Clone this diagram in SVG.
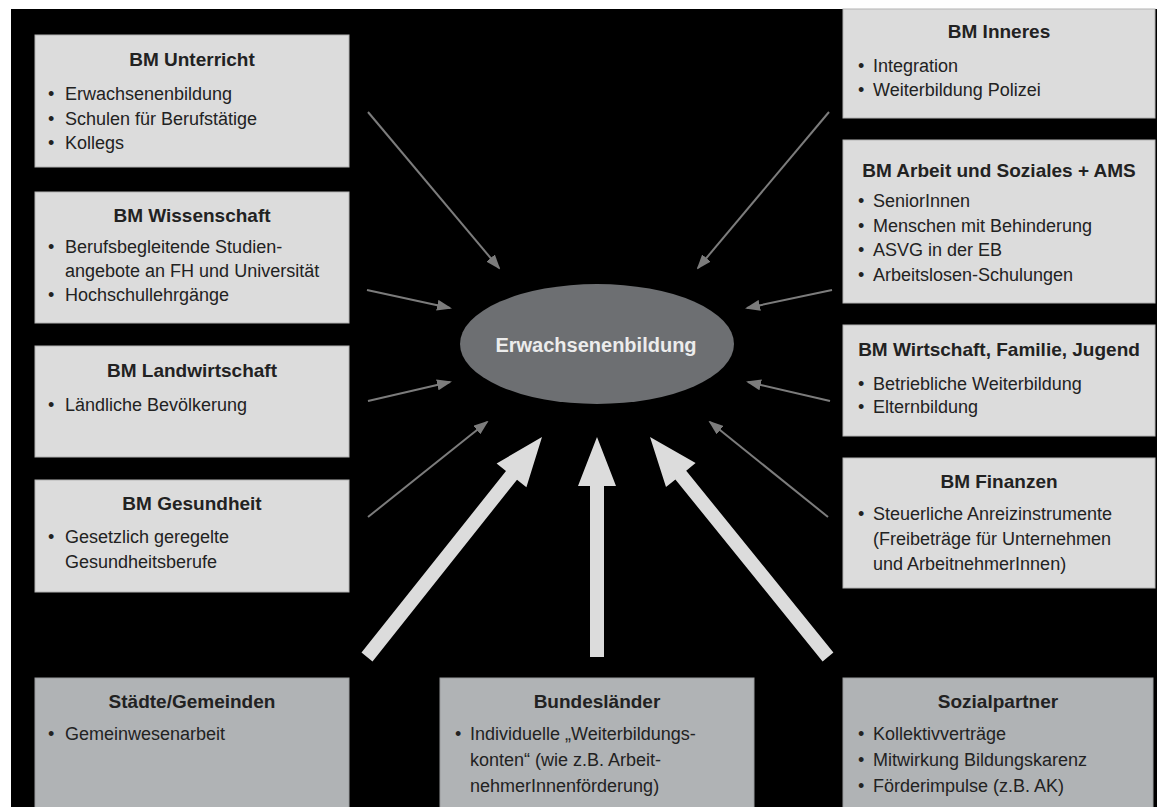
<svg xmlns="http://www.w3.org/2000/svg" width="1157" height="807" viewBox="0 0 1157 807">
<defs>
<style>
.box{fill:#dcdcdc;stroke:#b4b4b4;stroke-width:1}
.box2{fill:#b0b3b5;stroke:#9a9c9e;stroke-width:1}
.t{font-family:"Liberation Sans",Arial,sans-serif;font-size:19px;font-weight:bold;fill:#222;text-anchor:middle}
.b{font-family:"Liberation Sans",Arial,sans-serif;font-size:18px;fill:#222}
.thin{stroke:#7c7c7c;stroke-width:2;fill:none;marker-end:url(#ah)}
.thick{fill:#dcdcdc}
.ct{font-family:"Liberation Sans",Arial,sans-serif;font-size:20px;font-weight:bold;fill:#ececec;text-anchor:middle}
</style>
<marker id="ah" markerUnits="userSpaceOnUse" markerWidth="15" markerHeight="11" refX="13" refY="5.5" orient="auto">
<path d="M0,0 L15,5.5 L0,11 z" fill="#7c7c7c"/>
</marker>
</defs>
<rect x="0" y="0" width="1157" height="807" fill="#ffffff"/>
<rect x="11" y="9" width="1146" height="798" fill="#000000"/>

<g id="connectors">
<line class="thin" x1="368" y1="112" x2="499" y2="268"/>
<line class="thin" x1="829" y1="112" x2="698" y2="268"/>
<line class="thin" x1="367" y1="290" x2="450" y2="308"/>
<line class="thin" x1="832" y1="290" x2="747" y2="308"/>
<line class="thin" x1="368" y1="401" x2="450" y2="382"/>
<line class="thin" x1="830" y1="401" x2="748" y2="382"/>
<line class="thin" x1="368" y1="517" x2="487" y2="422"/>
<line class="thin" x1="828" y1="517" x2="710" y2="422"/>
<polygon class="thick" points="542,437 526.4,487.2 517,479.7 372.5,661.4 361.5,652.6 506,471 496.6,463.5"/>
<polygon class="thick" points="597,437 616,486 604,486 604,657 590,657 590,486 578,486"/>
<polygon class="thick" points="650,437 695.6,463.1 686.2,470.7 833.4,652.6 822.6,661.4 675.4,479.5 666,487.1"/>
</g>

<g id="center">
<ellipse cx="597" cy="344" rx="137" ry="60" fill="#6d6f72"/>
<text class="ct" x="596" y="352">Erwachsenenbildung</text>
</g>

<g id="bm-unterricht">
<rect class="box" x="35" y="35" width="314" height="132"/>
<text class="t" x="192" y="66">BM Unterricht</text>
<text class="b" x="48" y="100">•</text><text class="b" x="65" y="100">Erwachsenenbildung</text>
<text class="b" x="48" y="124.5">•</text><text class="b" x="65" y="124.5">Schulen für Berufstätige</text>
<text class="b" x="48" y="149">•</text><text class="b" x="65" y="149">Kollegs</text>
</g>

<g id="bm-wissenschaft">
<rect class="box" x="35" y="192" width="314" height="131"/>
<text class="t" x="192" y="222">BM Wissenschaft</text>
<text class="b" x="48" y="253">•</text><text class="b" x="65" y="253">Berufsbegleitende Studien-</text>
<text class="b" x="65" y="277">angebote an FH und Universität</text>
<text class="b" x="48" y="301">•</text><text class="b" x="65" y="301">Hochschullehrgänge</text>
</g>

<g id="bm-landwirtschaft">
<rect class="box" x="35" y="346" width="314" height="111"/>
<text class="t" x="192" y="377">BM Landwirtschaft</text>
<text class="b" x="48" y="411">•</text><text class="b" x="65" y="411">Ländliche Bevölkerung</text>
</g>

<g id="bm-gesundheit">
<rect class="box" x="35" y="480" width="314" height="112"/>
<text class="t" x="192" y="510">BM Gesundheit</text>
<text class="b" x="48" y="543">•</text><text class="b" x="65" y="543">Gesetzlich geregelte</text>
<text class="b" x="65" y="568">Gesundheitsberufe</text>
</g>

<g id="bm-inneres">
<rect class="box" x="843" y="9" width="312" height="109"/>
<text class="t" x="999" y="38">BM Inneres</text>
<text class="b" x="858" y="72">•</text><text class="b" x="873" y="72">Integration</text>
<text class="b" x="858" y="96">•</text><text class="b" x="873" y="96">Weiterbildung Polizei</text>
</g>

<g id="bm-arbeit">
<rect class="box" x="843" y="140" width="312" height="163"/>
<text class="t" x="999" y="177">BM Arbeit und Soziales + AMS</text>
<text class="b" x="858" y="207">•</text><text class="b" x="873" y="207">SeniorInnen</text>
<text class="b" x="858" y="232">•</text><text class="b" x="873" y="232">Menschen mit Behinderung</text>
<text class="b" x="858" y="256">•</text><text class="b" x="873" y="256">ASVG in der EB</text>
<text class="b" x="858" y="281">•</text><text class="b" x="873" y="281">Arbeitslosen-Schulungen</text>
</g>

<g id="bm-wirtschaft">
<rect class="box" x="843" y="325" width="312" height="111"/>
<text class="t" x="999" y="356">BM Wirtschaft, Familie, Jugend</text>
<text class="b" x="858" y="390">•</text><text class="b" x="873" y="390">Betriebliche Weiterbildung</text>
<text class="b" x="858" y="413">•</text><text class="b" x="873" y="413">Elternbildung</text>
</g>

<g id="bm-finanzen">
<rect class="box" x="843" y="458" width="312" height="130"/>
<text class="t" x="999" y="488">BM Finanzen</text>
<text class="b" x="858" y="520">•</text><text class="b" x="873" y="520">Steuerliche Anreizinstrumente</text>
<text class="b" x="873" y="545">(Freibeträge für Unternehmen</text>
<text class="b" x="873" y="570">und ArbeitnehmerInnen)</text>
</g>

<g id="staedte">
<rect class="box2" x="35" y="678" width="314" height="135"/>
<text class="t" x="192" y="708">Städte/Gemeinden</text>
<text class="b" x="48" y="740">•</text><text class="b" x="65" y="740">Gemeinwesenarbeit</text>
</g>

<g id="bundeslaender">
<rect class="box2" x="440" y="678" width="314" height="135"/>
<text class="t" x="597" y="708">Bundesländer</text>
<text class="b" x="455" y="740">•</text><text class="b" x="470" y="740">Individuelle „Weiterbildungs-</text>
<text class="b" x="470" y="766">konten“ (wie z.B. Arbeit-</text>
<text class="b" x="470" y="792">nehmerInnenförderung)</text>
</g>

<g id="sozialpartner">
<rect class="box2" x="843" y="678" width="310" height="135"/>
<text class="t" x="998" y="708">Sozialpartner</text>
<text class="b" x="858" y="740">•</text><text class="b" x="873" y="740">Kollektivverträge</text>
<text class="b" x="858" y="766">•</text><text class="b" x="873" y="766">Mitwirkung Bildungskarenz</text>
<text class="b" x="858" y="792">•</text><text class="b" x="873" y="792">Förderimpulse (z.B. AK)</text>
</g>
</svg>
